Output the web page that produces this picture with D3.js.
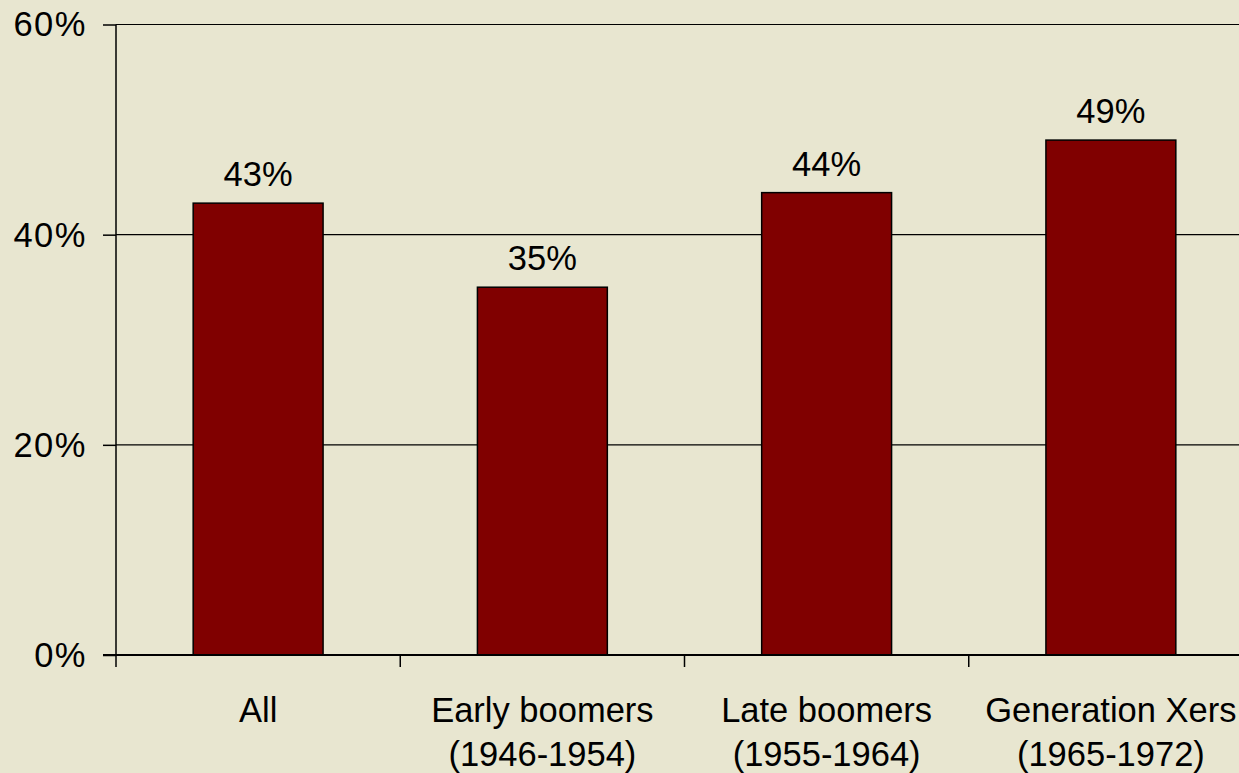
<!DOCTYPE html>
<html>
<head>
<meta charset="utf-8">
<script src="https://cdn.jsdelivr.net/npm/d3@7"></script>
<style>
  html, body { margin: 0; padding: 0; background: #E8E6D0; }
  svg { display: block; }
  text { font-family: "Liberation Sans", Arial, sans-serif; fill: #000; }
</style>
</head>
<body>
<svg id="chart" width="1239" height="773"></svg>
<script>
// Share of each group, in percent
const categories = ["All", "Early boomers", "Late boomers", "Generation Xers"];
const subLabels = ["", "(1946-1954)", "(1955-1964)", "(1965-1972)"];
const values = [43, 35, 44, 49];
const yTicks = [0, 20, 40, 60];

const W = 1239, H = 773;
const plotLeft = 116, plotRight = 1253, plotTop = 24.5, plotBottom = 655;
const fontSize = 34.5;

const svg = d3.select("#chart");
svg.append("rect").attr("width", W).attr("height", H).attr("fill", "#E8E6D0");

const x = d3.scaleBand().domain(categories).range([plotLeft, plotRight]).padding(0);
const y = d3.scaleLinear().domain([0, 60]).range([plotBottom, plotTop]);

// Horizontal gridlines
svg.append("g").selectAll("line")
  .data(yTicks.filter(d => d > 0))
  .join("line")
  .attr("x1", plotLeft).attr("x2", W)
  .attr("y1", d => y(d)).attr("y2", d => y(d))
  .attr("stroke", "#000").attr("stroke-width", 1.2);

// Y axis
const yAxis = d3.axisLeft(y).tickValues(yTicks).tickSize(13).tickPadding(16)
  .tickFormat(d => d + "%");
const gy = svg.append("g").attr("transform", `translate(${plotLeft},0)`).call(yAxis);
gy.select(".domain").attr("stroke", "#000").attr("stroke-width", 1.5)
  .attr("d", `M0,${plotTop}V${plotBottom + 12}`);
gy.selectAll(".tick line").attr("stroke", "#000").attr("stroke-width", 1.5);
gy.selectAll(".tick text").attr("font-size", fontSize).attr("dy", "0.33em")
  .attr("letter-spacing", 1.5)
  .style("font-family", '"Liberation Sans", Arial, sans-serif').attr("fill", "#000");

// Bars
const barW = x.bandwidth() * 0.457;
svg.append("g").selectAll("rect")
  .data(values)
  .join("rect")
  .attr("x", (d, i) => x(categories[i]) + (x.bandwidth() - barW) / 2)
  .attr("y", d => y(d))
  .attr("width", barW)
  .attr("height", d => y(0) - y(d))
  .attr("fill", "#800000")
  .attr("stroke", "#000").attr("stroke-width", 1.5);

// Value labels
svg.append("g").selectAll("text")
  .data(values)
  .join("text")
  .attr("x", (d, i) => x(categories[i]) + x.bandwidth() / 2)
  .attr("y", d => y(d) - 17)
  .attr("text-anchor", "middle")
  .attr("font-size", fontSize)
  .text(d => d + "%");

// X axis baseline
svg.append("line").attr("x1", plotLeft - 13).attr("x2", W)
  .attr("y1", plotBottom).attr("y2", plotBottom)
  .attr("stroke", "#000").attr("stroke-width", 2.2);
// Category separators
svg.append("g").selectAll("line")
  .data(categories.slice(1))
  .join("line")
  .attr("x1", d => x(d)).attr("x2", d => x(d))
  .attr("y1", plotBottom).attr("y2", plotBottom + 12)
  .attr("stroke", "#000").attr("stroke-width", 1.5);

// Category labels (two lines)
const lab = svg.append("g").selectAll("text")
  .data(categories)
  .join("text")
  .attr("x", d => x(d) + x.bandwidth() / 2)
  .attr("y", 722)
  .attr("text-anchor", "middle")
  .attr("font-size", fontSize);
lab.append("tspan").text(d => d);
lab.append("tspan")
  .attr("x", d => x(d) + x.bandwidth() / 2)
  .attr("dy", 44)
  .text((d, i) => subLabels[i]);
</script>
</body>
</html>
